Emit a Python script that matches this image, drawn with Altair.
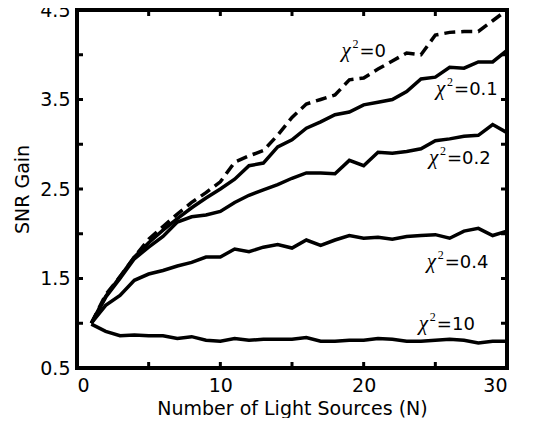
import altair as alt
import pandas as pd

# ---- data ----
N = list(range(1, 31))
snr_chi0 = [1.00, 1.32, 1.52, 1.74, 1.94, 2.08, 2.22, 2.35, 2.46, 2.58, 2.80, 2.87, 2.93, 3.10, 3.30, 3.45, 3.50, 3.55, 3.72, 3.74, 3.84, 3.93, 4.02, 4.00, 4.22, 4.25, 4.26, 4.26, 4.38, 4.50]
snr_chi01 = [1.00, 1.30, 1.52, 1.74, 1.90, 2.04, 2.17, 2.29, 2.40, 2.50, 2.61, 2.76, 2.79, 2.97, 3.05, 3.18, 3.25, 3.33, 3.36, 3.44, 3.47, 3.50, 3.59, 3.73, 3.75, 3.86, 3.85, 3.92, 3.92, 4.05]
snr_chi02 = [1.00, 1.29, 1.50, 1.72, 1.85, 1.97, 2.13, 2.19, 2.21, 2.25, 2.35, 2.43, 2.49, 2.55, 2.62, 2.68, 2.68, 2.67, 2.82, 2.76, 2.91, 2.90, 2.92, 2.95, 3.04, 3.06, 3.09, 3.10, 3.22, 3.13]
snr_chi04 = [1.00, 1.20, 1.31, 1.48, 1.55, 1.59, 1.64, 1.68, 1.74, 1.74, 1.83, 1.80, 1.85, 1.88, 1.84, 1.93, 1.87, 1.93, 1.98, 1.95, 1.96, 1.94, 1.97, 1.98, 1.99, 1.95, 2.03, 2.06, 1.98, 2.03]
snr_chi10 = [0.99, 0.91, 0.86, 0.87, 0.86, 0.86, 0.83, 0.85, 0.81, 0.80, 0.83, 0.81, 0.82, 0.82, 0.82, 0.84, 0.80, 0.80, 0.81, 0.81, 0.83, 0.82, 0.80, 0.80, 0.81, 0.82, 0.81, 0.78, 0.80, 0.80]

x_tick_labels = [0, 10, 20, 30]
y_tick_labels = [0.5, 1.5, 2.5, 3.5, 4.5]
x_minor_ticks = [5, 10, 15, 20, 25]
y_minor_ticks = [1.0, 1.5, 2.0, 2.5, 3.0, 3.5, 4.0]

label_suffix = ["=0", "=0.1", "=0.2", "=0.4", "=10"]
label_N = [18.45, 25.05, 24.55, 24.4, 23.85]
label_v = [3.97, 3.55, 2.78, 1.62, 0.92]

W, H = 430, 358

solid = pd.DataFrame({
    "N": N * 4,
    "gain": snr_chi01 + snr_chi02 + snr_chi04 + snr_chi10,
    "series": ["0.1"] * 30 + ["0.2"] * 30 + ["0.4"] * 30 + ["10"] * 30,
})
dashed = pd.DataFrame({"N": N, "gain": snr_chi0})
labels = pd.DataFrame({"N": label_N, "v": label_v, "txt": label_suffix,
                       "chi": ["χ"] * 5, "sup": ["2"] * 5})

xs = alt.Scale(domain=[0, 30], nice=False, zero=False)
ys = alt.Scale(domain=[0.5, 4.5], nice=False, zero=False)

xenc = alt.X("N:Q", scale=xs, title="Number of Light Sources (N)",
             axis=alt.Axis(values=x_tick_labels, ticks=False, domain=False, grid=False,
                           labelPadding=8, titlePadding=4, format="d"))
yenc = alt.Y("gain:Q", scale=ys, title="SNR Gain",
             axis=alt.Axis(values=y_tick_labels, ticks=False, domain=False, grid=False,
                           labelPadding=7, titlePadding=7, format=".1f"))

solid_lines = alt.Chart(solid).mark_line(color="black", strokeWidth=3.5).encode(
    x=xenc, y=yenc, detail="series:N")
dash_line = alt.Chart(dashed).mark_line(color="black", strokeWidth=3.5, strokeDash=[11, 6]).encode(
    x=alt.X("N:Q", scale=xs), y=alt.Y("gain:Q", scale=ys))

yt = pd.DataFrame({"v": y_minor_ticks})
xt = pd.DataFrame({"n": x_minor_ticks})
tick_style = dict(color="black", strokeWidth=3)
left_ticks = alt.Chart(yt).mark_rule(**tick_style).encode(
    y=alt.Y("v:Q", scale=ys), x=alt.value(0), x2=alt.value(6))
right_ticks = alt.Chart(yt).mark_rule(**tick_style).encode(
    y=alt.Y("v:Q", scale=ys), x=alt.value(W), x2=alt.value(W - 6))
bottom_ticks = alt.Chart(xt).mark_rule(**tick_style).encode(
    x=alt.X("n:Q", scale=xs), y=alt.value(H), y2=alt.value(H - 6))
top_ticks = alt.Chart(xt).mark_rule(**tick_style).encode(
    x=alt.X("n:Q", scale=xs), y=alt.value(0), y2=alt.value(6))

lab_base = alt.Chart(labels).encode(x=alt.X("N:Q", scale=xs), y=alt.Y("v:Q", scale=ys))
chi_txt = lab_base.mark_text(align="left", baseline="alphabetic", font="Liberation Serif",
                             fontStyle="italic", fontSize=21, color="black").encode(text="chi:N")
sup_txt = lab_base.mark_text(align="left", baseline="alphabetic", font="Liberation Serif",
                             fontSize=12, dx=11, dy=-9, color="black").encode(text="sup:N")
eq_txt = lab_base.mark_text(align="left", baseline="alphabetic", font="DejaVu Sans",
                            fontSize=18, dx=18, color="black").encode(text="txt:N")

chart = alt.layer(
    solid_lines, dash_line, left_ticks, right_ticks, bottom_ticks, top_ticks,
    chi_txt, sup_txt, eq_txt
).properties(
    width=W, height=H,
    autosize=alt.AutoSizeParams(type="none"),
    padding={"left": 69, "top": 2, "right": 20, "bottom": 50},
).configure_view(
    stroke="black", strokeWidth=4
).configure_axis(
    labelFont="DejaVu Sans", titleFont="DejaVu Sans",
    labelFontSize=19, titleFontSize=19, labelColor="black", titleColor="black",
    titleFontWeight="normal"
)

chart.save("out.html", embed_options={"renderer": "svg", "actions": False})
